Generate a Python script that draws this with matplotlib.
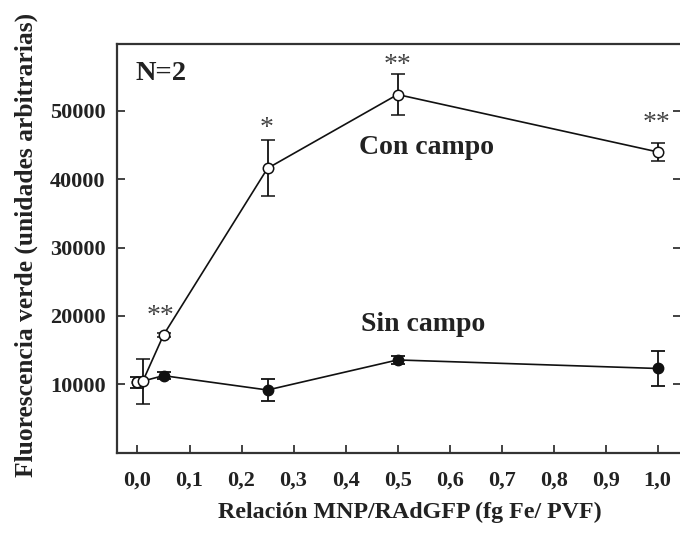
import matplotlib
matplotlib.use("Agg")
import matplotlib.pyplot as plt

# data
x_con = [0.01, 0.05, 0.25, 0.5, 1.0]
y_con = [10400, 17200, 41600, 52400, 44000]
e_con = [3300, 300, 4100, 3000, 1300]

x_sin = [0.0, 0.05, 0.25, 0.5, 1.0]
y_sin = [10250, 11250, 9150, 13550, 12300]
e_sin = [850, 550, 1550, 650, 2550]

stars = ["**", "*", "**", "**"]
star_x = [0.045, 0.248, 0.5, 0.998]
star_y = [19900, 47400, 56600, 48100]

plt.rcParams['font.family'] = ['Liberation Serif', 'DejaVu Serif']
plt.rcParams['font.weight'] = 'bold'

fig = plt.figure(figsize=(6.8, 5.33), dpi=100)
ax = fig.add_axes([0.1716, 0.151, 0.83, 0.7665])

ax.errorbar(x_sin, y_sin, yerr=e_sin, color='#111111', lw=1.2, marker='o',
            ms=7.5, mfc='#111111', mec='#111111', capsize=5, elinewidth=1.3,
            capthick=1.3, zorder=2)
ax.errorbar(x_con, y_con, yerr=e_con, color='#111111', lw=1.2, marker='o',
            ms=7.5, mfc='white', mec='#111111', mew=1.1, capsize=5,
            elinewidth=1.3, capthick=1.3, zorder=3)
# first "sin campo" point shows open in the original
ax.plot(x_sin[:1], y_sin[:1], 'o', ms=7.5, mfc='white', mec='#111111',
        mew=1.1, zorder=2.5)

for s, sx, sy in zip(stars, star_x, star_y):
    ax.text(sx, sy, s, ha='center', va='center', fontsize=20,
            fontweight='normal', color='#444444')

ax.text(0.555, 44700, "Con campo", ha='center', va='center', fontsize=20,
        fontweight='bold', color='#222222')
ax.text(0.55, 18800, "Sin campo", ha='center', va='center', fontsize=20,
        fontweight='bold', color='#222222')
ax.text(0.045, 55500, "N=2", ha='center', va='center', fontsize=20.5,
        fontweight='bold', color='#222222')

ax.set_xlim(-0.04, 1.045)
ax.set_ylim(0, 59800)
ax.set_xticks([i / 10 for i in range(11)])
ax.set_xticklabels([("%.1f" % (i / 10)).replace('.', ',') for i in range(11)])
ax.set_yticks([10000, 20000, 30000, 40000, 50000])

ax.tick_params(direction='in', length=6, width=1.2, labelsize=16,
               colors='#222222', top=False, right=True)
ax.tick_params(axis='x', pad=13)
ax.tick_params(axis='y', pad=8)
for lab in ax.get_xticklabels() + ax.get_yticklabels():
    lab.set_fontweight('bold')
for sp in ax.spines.values():
    sp.set_linewidth(1.6)
    sp.set_color('#333333')

ax.set_xlabel("Relación MNP/RAdGFP (fg Fe/ PVF)", fontsize=17.3,
              fontweight='bold', color='#222222')
ax.set_ylabel("Fluorescencia verde (unidades arbitrarias)", fontsize=18.4,
              fontweight='bold', color='#222222')
ax.xaxis.set_label_coords((410 - 116.7) / 564.3, -(502 - 452.5) / 408.5)
ax.yaxis.set_label_coords(-(117 - 38) / 564.3, 0.5 + (452.5 - 245 - 204) / 408.5)

fig.savefig("out.png", dpi=100)
